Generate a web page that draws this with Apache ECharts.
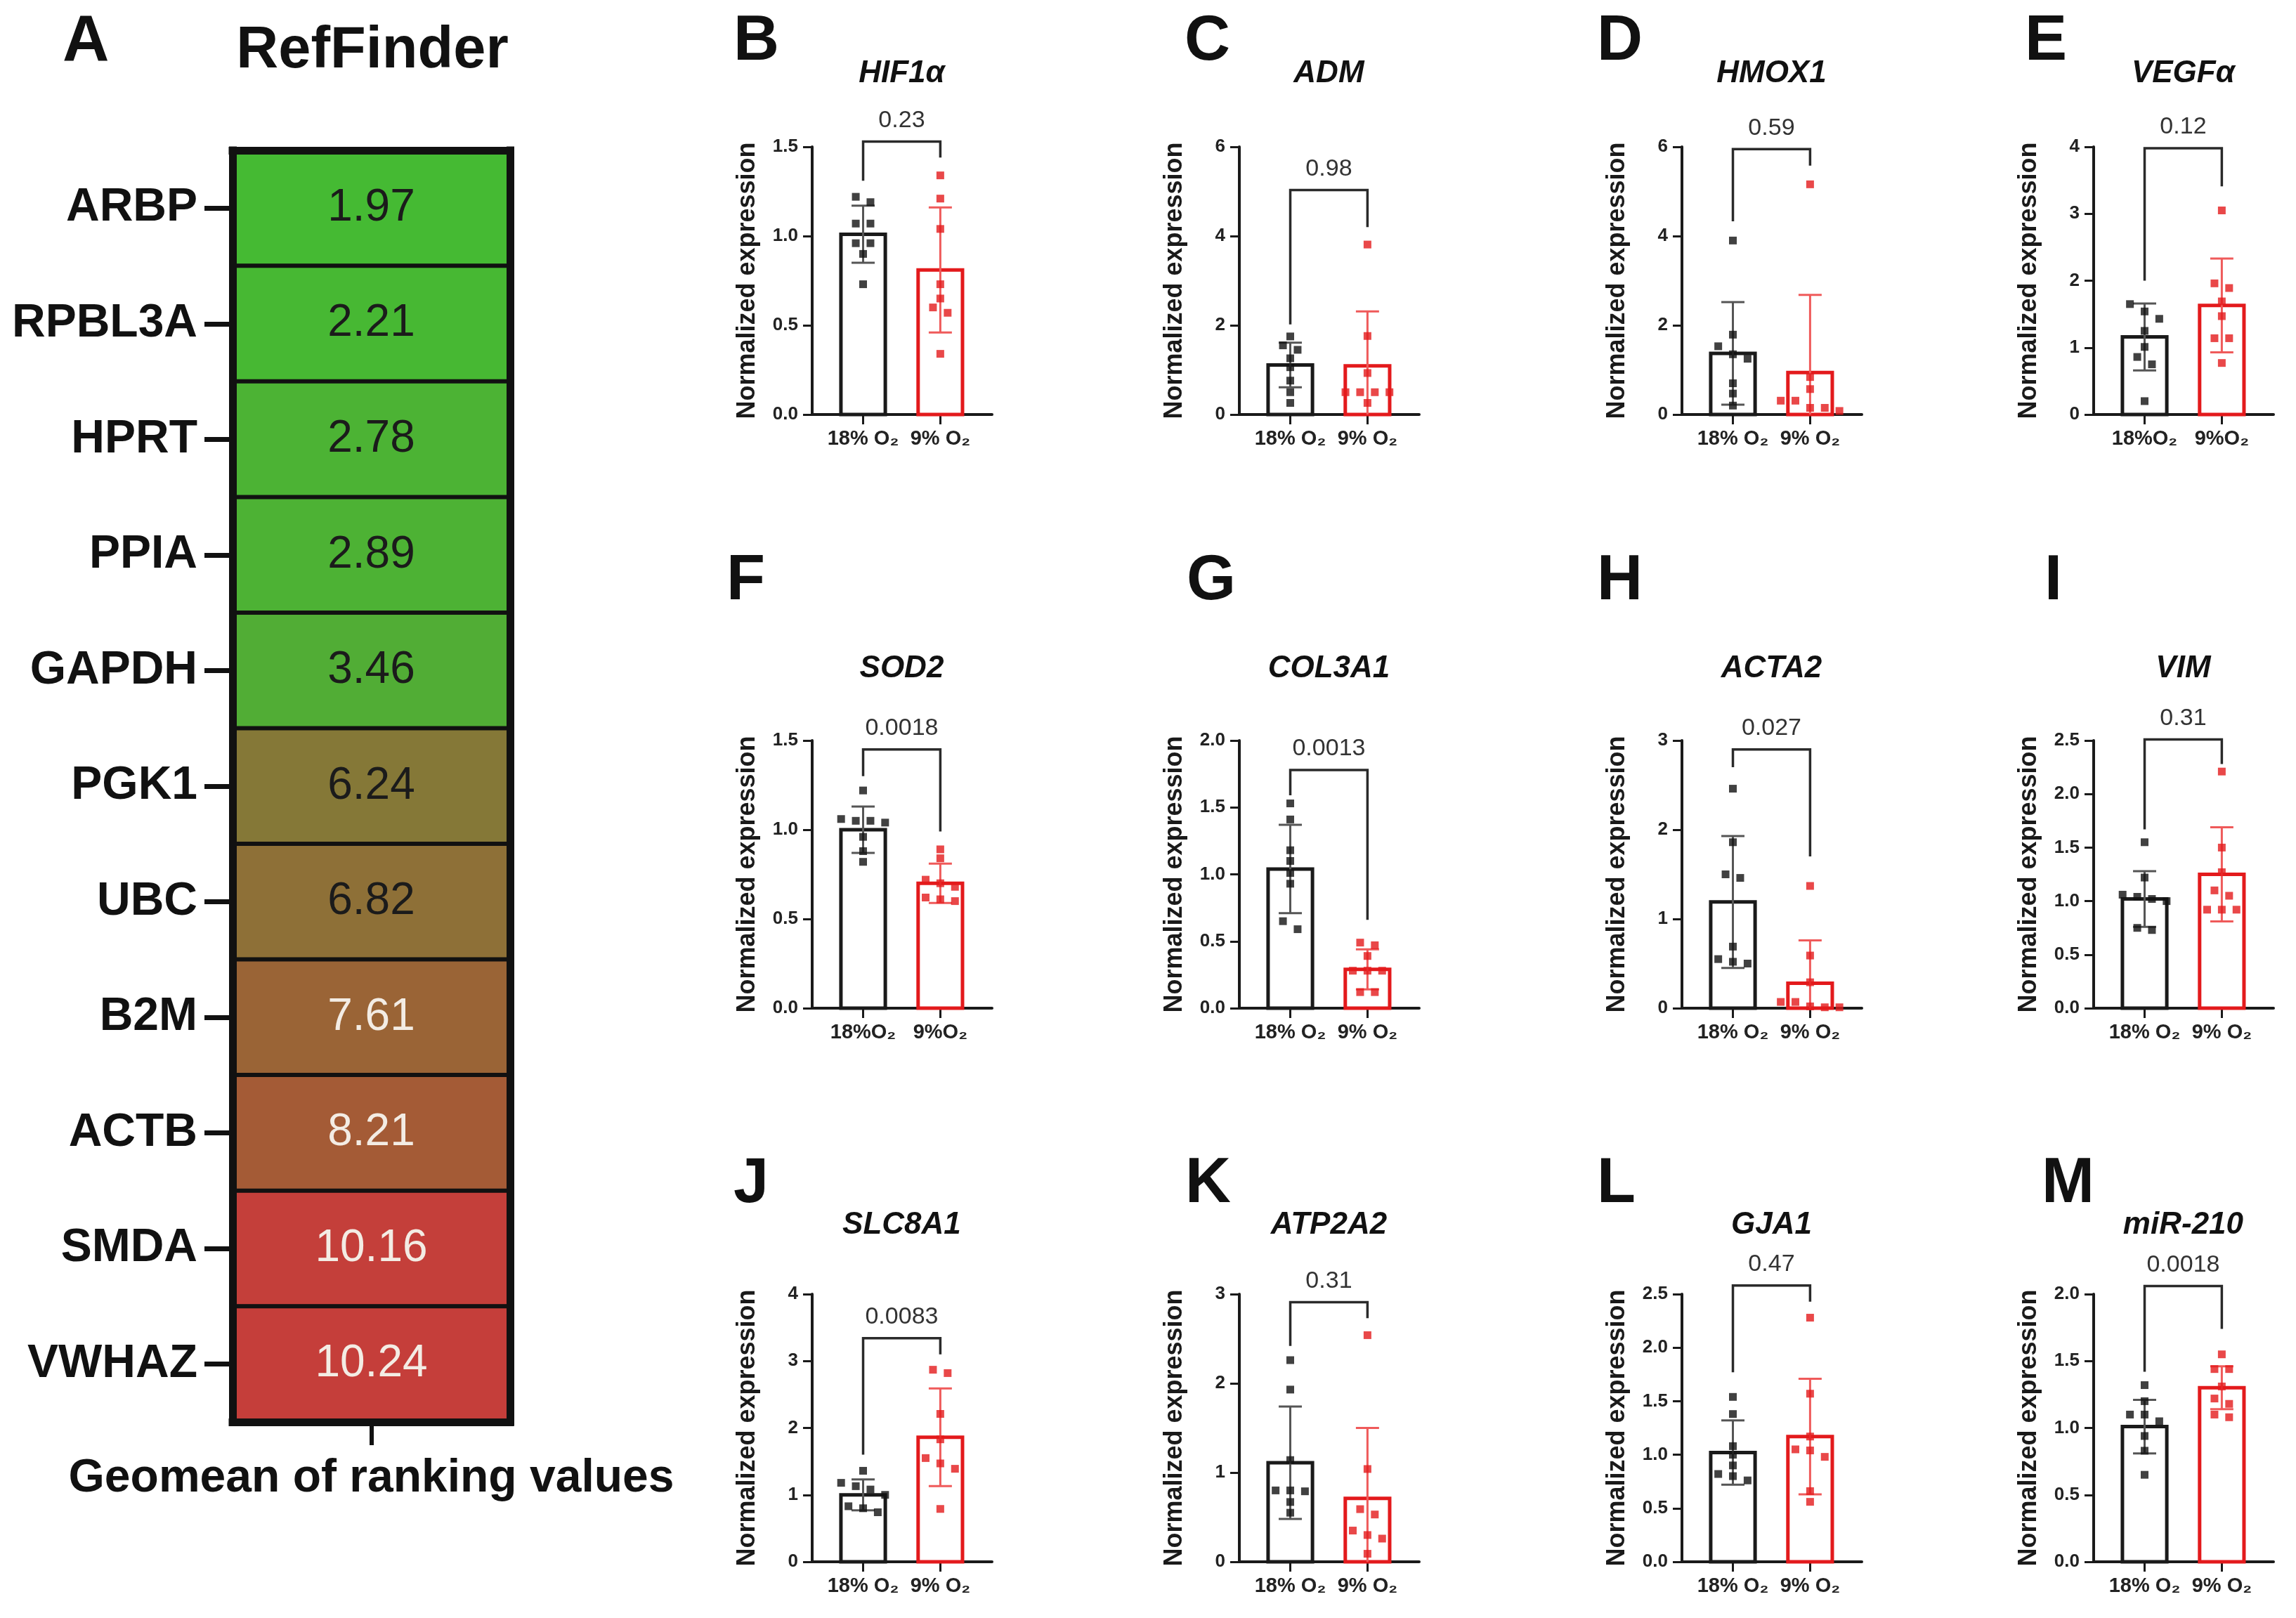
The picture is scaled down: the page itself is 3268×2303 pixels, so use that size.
<!DOCTYPE html>
<html><head><meta charset="utf-8">
<script src="https://cdn.jsdelivr.net/npm/echarts@6/dist/echarts.min.js"></script>
<style>html,body{margin:0;padding:0;background:#fff}#c{width:3268px;height:2303px}</style>
</head><body><div id="c"></div><script>
// ---------- Panel A data ----------
const refGenes = ['ARBP','RPBL3A','HPRT','PPIA','GAPDH','PGK1','UBC','B2M','ACTB','SMDA','VWHAZ'];
const refGeomean = [1.97,2.21,2.78,2.89,3.46,6.24,6.82,7.61,8.21,10.16,10.24];

// ---------- Panels B-M data ----------
const panelLetters = ['B','C','D','E','F','G','H','I','J','K','L','M'];
const panelGenes = ['HIF1\u03b1','ADM','HMOX1','VEGF\u03b1','SOD2','COL3A1','ACTA2','VIM','SLC8A1','ATP2A2','GJA1','miR-210'];
const pValues = ['0.23','0.98','0.59','0.12','0.0018','0.0013','0.027','0.31','0.0083','0.31','0.47','0.0018'];
const yMaxes = [1.5,6,6,4,1.5,2,3,2.5,4,3,2.5,2];
const yIntervals = [0.5,2,2,1,0.5,0.5,1,0.5,1,1,0.5,0.5];
const groupLabels = ['18% O\u2082','9% O\u2082'];
const groupLabelsTight = ['18%O\u2082','9%O\u2082'];
const tightLabelPanels = ['E','F'];

const mean18 = [1.01,1.11,1.37,1.16,1.00,1.04,1.19,1.02,1.00,1.11,1.02,1.01];
const mean9  = [0.81,1.09,0.94,1.63,0.70,0.29,0.28,1.25,1.86,0.71,1.17,1.30];
const sd18   = [0.16,0.50,1.15,0.50,0.13,0.33,0.74,0.26,0.23,0.63,0.30,0.20];
const sd9    = [0.35,1.22,1.74,0.70,0.11,0.15,0.48,0.44,0.73,0.79,0.54,0.16];

const bracketLeft  = [1.31,2.02,4.33,2.00,1.30,1.59,2.70,1.67,1.60,2.42,1.77,1.42];
const bracketTop   = [1.53,5.03,5.95,3.98,1.45,1.78,2.90,2.51,3.34,2.91,2.58,2.06];
const bracketRight = [1.44,4.20,5.58,3.41,0.99,0.66,1.70,2.28,3.10,2.73,2.43,1.74];

const hif1a_18  = [1.22,1.19,1.07,1.07,0.96,0.96,0.90,0.73];
const hif1a_9   = [1.34,1.21,1.04,0.73,0.65,0.60,0.57,0.34];
const adm_18    = [1.75,1.55,1.45,1.26,1.06,0.76,0.50,0.26];
const adm_9     = [3.81,1.76,0.93,0.50,0.50,0.50,0.50,0.26];
const hmox1_18  = [3.90,1.79,1.53,1.35,1.25,0.70,0.47,0.20];
const hmox1_9   = [5.16,0.84,0.57,0.31,0.31,0.15,0.15,0.08];
const vegfa_18  = [1.65,1.54,1.43,1.25,1.01,0.86,0.75,0.20];
const vegfa_9   = [3.05,1.96,1.89,1.69,1.47,1.14,1.14,0.77];
const sod2_18   = [1.22,1.06,1.05,1.05,1.04,0.96,0.88,0.82];
const sod2_9    = [0.89,0.84,0.72,0.70,0.68,0.62,0.61,0.60];
const col3a1_18 = [1.53,1.41,1.18,1.10,1.01,0.93,0.65,0.59];
const col3a1_9  = [0.49,0.47,0.39,0.28,0.28,0.28,0.12,0.12];
const acta2_18  = [2.46,1.86,1.50,1.46,0.69,0.55,0.52,0.50];
const acta2_9   = [1.37,0.59,0.29,0.07,0.07,0.02,0.01,0.01];
const vim_18    = [1.55,1.22,1.06,1.04,1.02,1.00,0.75,0.73];
const vim_9     = [2.21,1.50,1.27,1.10,1.05,0.92,0.92,0.92];
const slc8a1_18 = [1.36,1.18,1.13,1.08,1.00,0.83,0.80,0.74];
const slc8a1_9  = [2.87,2.82,2.21,1.83,1.55,1.47,1.39,0.79];
const atp2a2_18 = [2.26,1.93,1.14,0.80,0.80,0.79,0.67,0.55];
const atp2a2_9  = [2.54,1.04,0.59,0.53,0.35,0.30,0.26,0.09];
const gja1_18   = [1.54,1.38,1.08,1.00,0.90,0.82,0.80,0.76];
const gja1_9    = [2.28,1.57,1.17,1.05,1.04,0.98,0.66,0.56];
const mir210_18 = [1.32,1.20,1.10,1.10,1.05,0.94,0.83,0.65];
const mir210_9  = [1.55,1.44,1.44,1.31,1.22,1.18,1.10,1.08];

const points18 = [hif1a_18,adm_18,hmox1_18,vegfa_18,sod2_18,col3a1_18,acta2_18,vim_18,slc8a1_18,atp2a2_18,gja1_18,mir210_18];
const points9  = [hif1a_9,adm_9,hmox1_9,vegfa_9,sod2_9,col3a1_9,acta2_9,vim_9,slc8a1_9,atp2a2_9,gja1_9,mir210_9];

// ---------- layout / style ----------
const FONT = "'Liberation Sans', Arial, Helvetica, sans-serif";
const INK = '#1a1a1a';
const RED = '#e31a1c';
const COL_LEFT = [1156, 1764, 2394, 2980];
const ROW_TOP = [209, 1054, 1842];
const GRID_W = 256, GRID_H = 381;
const X_MIN = -0.66, X_MAX = 1.67;
const BAR_FRAC = 0.575, CAP_FRAC = 0.3, JIT = 0.19;
const LETTER_X = [1044,1686,2273,2882, 1034,1689,2273,2910, 1044,1687,2273,2906];
const LETTER_Y = [60, 828, 1686];
const TITLE_Y = [105, 952, 1744];

const chart = echarts.init(document.getElementById('c'), null, {renderer:'canvas', width:3268, height:2303});
const grids = [], xAxes = [], yAxes = [], series = [], graphics = [];

// ---------- Panel A ----------
const frameLine = {show:true, onZero:false, lineStyle:{color:'#111', width:11, cap:'square'}};
grids.push({left:331, top:214, width:395, height:1810, containLabel:false, outerBoundsMode:'none'});
xAxes.push({type:'category', gridIndex:0, data:['RefFinder'], position:'bottom', z:10,
  axisLine:frameLine,
  axisTick:{show:true, alignWithLabel:true, length:33, lineStyle:{color:'#111', width:6}},
  axisLabel:{show:false}, splitLine:{show:false},
  name:'Geomean of ranking values', nameLocation:'middle', nameGap:48,
  nameTextStyle:{fontFamily:FONT, fontWeight:'bold', fontSize:66, color:'#111'}});
xAxes.push({type:'category', gridIndex:0, data:['RefFinder'], position:'top', z:10,
  axisLine:frameLine, axisTick:{show:false}, axisLabel:{show:false}, splitLine:{show:false}});
yAxes.push({type:'category', gridIndex:0, data:refGenes, inverse:true, z:10,
  axisLine:frameLine,
  axisTick:{show:true, alignWithLabel:true, length:40, lineStyle:{color:'#111', width:7}},
  axisLabel:{margin:50, fontFamily:FONT, fontWeight:'bold', fontSize:66, color:'#111'},
  splitLine:{show:false}});
yAxes.push({type:'category', gridIndex:0, data:refGenes, inverse:true, position:'right', z:10,
  axisLine:frameLine, axisTick:{show:false}, axisLabel:{show:false}, splitLine:{show:false}});
series.push({type:'heatmap', xAxisIndex:0, yAxisIndex:0,
  data: refGeomean.map((v,i)=>({value:[0,i,v], label:{color: v>=7 ? '#f3ece4' : '#1b1b1b'}})),
  label:{show:true, formatter:p=>p.value[2].toFixed(2), fontFamily:FONT, fontSize:64},
  itemStyle:{borderColor:'#111', borderWidth:6}, emphasis:{disabled:true}});

graphics.push({type:'text', x:89, y:61, style:{text:'A', font:`bold 92px ${FONT}`, fill:'#111', textAlign:'left', textVerticalAlign:'middle'}});
graphics.push({type:'text', x:530, y:73, style:{text:'RefFinder', font:`bold 83px ${FONT}`, fill:'#111', textAlign:'center', textVerticalAlign:'middle'}});

// ---------- helpers ----------
function swarm(values, k, center){
  const pxPerUnit = GRID_H / yMaxes[k];
  const sorted = values.slice().sort((a,b)=>b-a);
  const groups = [];
  sorted.forEach((v,i)=>{
    if (i>0 && (sorted[i-1]-v)*pxPerUnit < 12) groups[groups.length-1].push(v);
    else groups.push([v]);
  });
  const out = [];
  groups.forEach(g=>{ g.forEach((v,i)=>out.push([center + (i-(g.length-1)/2)*JIT, v])); });
  return out;
}

// ---------- Panels B-M ----------
panelLetters.forEach((letter,k)=>{
  const row = Math.floor(k/4), col = k%4;
  const gi = grids.length, ai = xAxes.length;
  const left = COL_LEFT[col], top = ROW_TOP[row];
  grids.push({left:left, top:top, width:GRID_W, height:GRID_H, containLabel:false, outerBoundsMode:'none'});
  const labels = tightLabelPanels.includes(letter) ? groupLabelsTight : groupLabels;
  xAxes.push({type:'value', gridIndex:gi, min:X_MIN, max:X_MAX,
    axisLine:{show:true, onZero:false, lineStyle:{color:INK, width:4}},
    axisTick:{show:true, customValues:[0,1], length:14, lineStyle:{color:INK, width:3}},
    axisLabel:{show:true, customValues:[0,1], formatter:v=>labels[Math.round(v)], margin:20,
      fontFamily:FONT, fontWeight:'bold', fontSize:29, color:'#222'},
    splitLine:{show:false}});
  yAxes.push({type:'value', gridIndex:gi, min:0, max:yMaxes[k], interval:yIntervals[k],
    axisLine:{show:true, onZero:false, lineStyle:{color:INK, width:4}},
    axisTick:{show:true, length:13, lineStyle:{color:INK, width:3}},
    axisLabel:{margin:20, fontFamily:FONT, fontWeight:'bold', fontSize:26, color:'#222',
      formatter:v=> yIntervals[k] < 1 ? v.toFixed(1) : String(v)},
    splitLine:{show:false},
    name:'Normalized expression', nameLocation:'middle', nameGap:74,
    nameTextStyle:{fontFamily:FONT, fontWeight:'bold', fontSize:36, color:INK}});

  const colors = [INK, RED];
  // bars
  series.push({type:'custom', xAxisIndex:ai, yAxisIndex:ai, z:2, clip:false,
    data:[[0, mean18[k]],[1, mean9[k]]],
    renderItem:(params, api)=>{
      const x = api.value(0), m = api.value(1);
      const p0 = api.coord([x,0]), p1 = api.coord([x,m]);
      const w = api.size([BAR_FRAC,0])[0];
      return {type:'rect', shape:{x:p0[0]-w/2, y:p1[1], width:w, height:p0[1]-p1[1]},
        style:{fill:'#ffffff', stroke:colors[params.dataIndex], lineWidth:5}};
    }});
  // error bars
  const errColors = ['#555555', '#ef5a5a'];
  series.push({type:'custom', xAxisIndex:ai, yAxisIndex:ai, z:3, clip:false,
    data:[[0, mean18[k], sd18[k]],[1, mean9[k], sd9[k]]],
    renderItem:(params, api)=>{
      const x = api.value(0), m = api.value(1), s = api.value(2);
      const lo = Math.max(0, m - s), hi = m + s;
      const pl = api.coord([x,lo]), ph = api.coord([x,hi]);
      const cw = api.size([CAP_FRAC,0])[0]/2;
      const st = {stroke:errColors[params.dataIndex], lineWidth:3};
      const ch = [
        {type:'line', shape:{x1:pl[0], y1:pl[1], x2:ph[0], y2:ph[1]}, style:st},
        {type:'line', shape:{x1:ph[0]-cw, y1:ph[1], x2:ph[0]+cw, y2:ph[1]}, style:st}];
      if (m - s > 0) ch.push({type:'line', shape:{x1:pl[0]-cw, y1:pl[1], x2:pl[0]+cw, y2:pl[1]}, style:st});
      return {type:'group', children:ch};
    }});
  // points
  series.push({type:'scatter', xAxisIndex:ai, yAxisIndex:ai, z:4, clip:false, symbol:'rect', symbolSize:11,
    data:swarm(points18[k], k, 0), itemStyle:{color:'#111'}});
  series.push({type:'scatter', xAxisIndex:ai, yAxisIndex:ai, z:4, clip:false, symbol:'rect', symbolSize:11,
    data:swarm(points9[k], k, 1), itemStyle:{color:RED}});
  // bracket + p-value
  series.push({type:'custom', xAxisIndex:ai, yAxisIndex:ai, z:3, clip:false,
    data:[[bracketLeft[k], bracketTop[k], bracketRight[k]]],
    renderItem:(params, api)=>{
      const a = api.coord([0, api.value(0)]), b = api.coord([0, api.value(1)]);
      const c = api.coord([1, api.value(1)]), d = api.coord([1, api.value(2)]);
      return {type:'group', children:[
        {type:'polyline', shape:{points:[a,b,c,d]}, style:{stroke:'#2a2a2a', lineWidth:3.5, fill:'none'}},
        {type:'text', x:(b[0]+c[0])/2, y:b[1]-30,
          style:{text:pValues[k], font:`34px ${FONT}`, fill:'#333', textAlign:'center', textVerticalAlign:'middle', align:'center', verticalAlign:'middle'}}
      ]};
    }});

  // letters and gene titles
  graphics.push({type:'text', x:LETTER_X[k], y:LETTER_Y[row],
    style:{text:letter, font:`bold 90px ${FONT}`, fill:'#111', textAlign:'left', textVerticalAlign:'middle'}});
  const midX = left + (0 - X_MIN + 0.5) / (X_MAX - X_MIN) * GRID_W;
  graphics.push({type:'text', x:midX, y:TITLE_Y[row],
    style:{text:panelGenes[k], font:`italic bold 44px ${FONT}`, fill:'#111', textAlign:'center', textVerticalAlign:'middle'}});
});

chart.setOption({
  animation:false,
  backgroundColor:'#ffffff',
  grid:grids, xAxis:xAxes, yAxis:yAxes,
  visualMap:{type:'continuous', show:false, seriesIndex:0, dimension:2, min:1.97, max:10.24,
    inRange:{color:['#45ba33','#56a836','#837a37','#a35c36','#c53e3a']}},
  series:series,
  graphic:graphics
});
</script></body></html>
